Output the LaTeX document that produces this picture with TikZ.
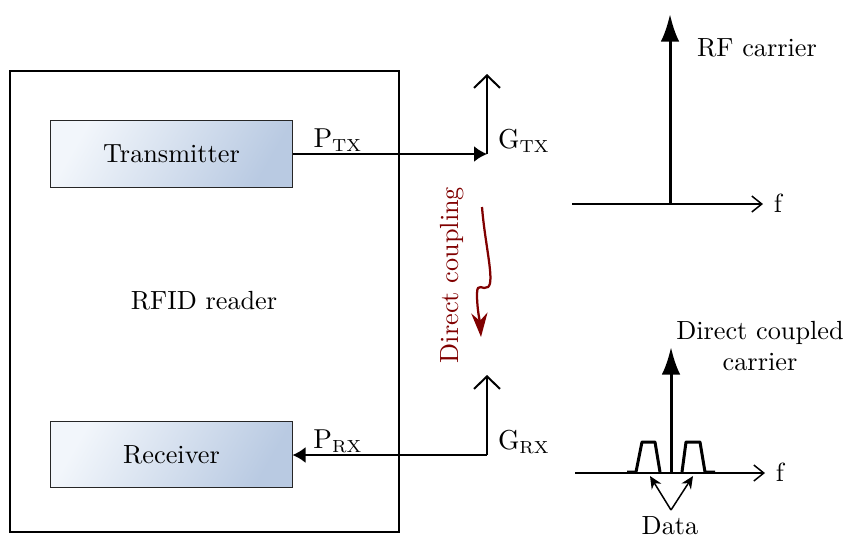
\documentclass[tikz,border=0pt]{standalone}
\usepackage{xcolor}
\usepackage{tikz}
\usetikzlibrary{arrows.meta,positioning}

\definecolor{boxlight}{HTML}{F2F6FB}
\definecolor{boxdark}{HTML}{B9CAE2}
\definecolor{couplered}{HTML}{800000}

\begin{document}
\begin{tikzpicture}[
  x=0.4pt, y=-0.4pt,
  font=\fontsize{10.5}{12.6}\selectfont,
  block/.style={rectangle, draw=black!85, line width=0.4pt, top color=boxlight,
    bottom color=boxdark, shading angle=60, minimum width=96.4pt, minimum height=26.6pt},
  sig/.style={-{Latex[length=5.2pt, width=6.4pt]}, line width=0.8pt},
  antenna/.style={-{Straight Barb[length=5pt, width=10.4pt, line width=0.8pt]}, line width=0.8pt},
  axis/.style={-{Straight Barb[length=4pt, width=6.4pt, line width=0.6pt]}, line width=0.6pt},
  carrier/.style={-{Latex[length=11pt, width=7.4pt]}, line width=1.2pt},
  lbl/.style={inner sep=1pt},
]
  \useasboundingbox (0,0) rectangle (847,536);

  % reader
  \node[draw, line width=0.5pt, minimum width=155.6pt, minimum height=184.4pt] (reader) at (204.5,301.5) {};
  \node (rfid) at (204,301) {RFID reader};
  \node[block] (tx) at (171.5,154) {Transmitter};
  \node[block] (rx) at (171.5,454.5) {Receiver};

  % antennas
  \coordinate (txant) at (487,154);
  \coordinate (txtop) at (487,74);
  \coordinate (rxant) at (487,455);
  \coordinate (rxtop) at (487,375);

  \draw[sig] (tx.east) -- (txant);
  \draw[antenna] (txant) -- (txtop);
  \draw[antenna] (rxant) -- (rxtop);
  \draw[sig] (rxant) -- (rx.east |- rxant);

  \node[lbl] (ptx) at (338,140) {$\mathrm{P}_{\mathrm{TX}}$};
  \node[lbl] (gtx) at (524,141) {$\mathrm{G}_{\mathrm{TX}}$};
  \node[lbl] (prx) at (338,441) {$\mathrm{P}_{\mathrm{RX}}$};
  \node[lbl] (grx) at (524,442) {$\mathrm{G}_{\mathrm{RX}}$};

  % direct coupling
  \node[text=couplered, rotate=90] (dc) at (452,275) {Direct coupling};
  \coordinate (dcstart) at (482,207);
  \coordinate (dcend) at (481,337);
  \draw[couplered, line width=0.9pt, -{Stealth[length=9.6pt, width=6.5pt]}]
    (dcstart) .. controls (485,245) and (495,282) .. (488,287)
    .. controls (483,291) and (477,281) .. (477,294)
    .. controls (477,310) and (480,322) .. (dcend);

  % RF carrier spectrum
  \coordinate (ax1l) at (572,204);
  \coordinate (ax1r) at (763,204);
  \coordinate (c1base) at (670,204);
  \coordinate (c1top) at (670,14);
  \draw[axis] (ax1l) -- (ax1r);
  \draw[carrier] (c1base) -- (c1top);
  \node (f1) at (778,203) {f};
  \node (rfc) at (757,48) {RF carrier};

  % direct coupled carrier spectrum
  \coordinate (ax2l) at (575,473);
  \coordinate (ax2r) at (765,473);
  \coordinate (c2base) at (671,473);
  \coordinate (c2top) at (671,347);
  \draw[axis] (ax2l) -- (ax2r);
  \draw[line width=1.2pt, line join=round]
    (627,472) -- (636,472) -- (642,442) -- (655,442) -- (660,472)
    (682,472) -- (686,442) -- (700,442) -- (705,472) -- (715,472);
  \draw[carrier] (c2base) -- (c2top);
  \node (f2) at (780,472) {f};
  \node[align=center] (dcc) at (760,346) {Direct coupled\\carrier};

  % data
  \node[anchor=base, inner sep=0pt] (data) at (670,534) {Data};
  \coordinate (datafork) at (671,510);
  \coordinate (dleft) at (650,476);
  \coordinate (dright) at (693,476);
  \draw[-{Stealth[length=5pt, width=4.5pt]}, line width=0.6pt] (datafork) -- (dleft);
  \draw[-{Stealth[length=5pt, width=4.5pt]}, line width=0.6pt] (datafork) -- (dright);
\end{tikzpicture}
\end{document}
